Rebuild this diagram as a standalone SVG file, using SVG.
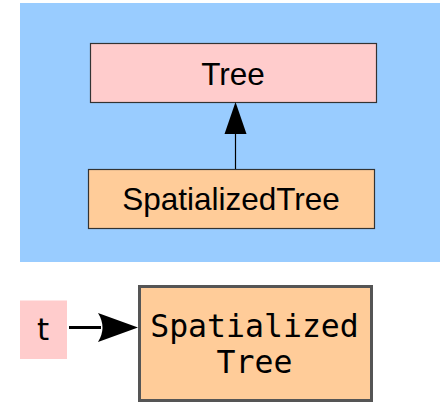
<svg xmlns="http://www.w3.org/2000/svg" width="440" height="402" viewBox="0 0 440 402">
<style>
.box{stroke:#333;stroke-width:1.2}
.lbl{font-family:"Liberation Sans",Arial,sans-serif;font-size:31.5px;text-anchor:middle;fill:#000}
.mono{font-family:"DejaVu Sans Mono",monospace;font-size:31.5px;text-anchor:middle;fill:#000}
</style>
<rect x="20" y="3" width="420" height="259" fill="#99ccff"/>
<g id="tree"><rect class="box" x="90.5" y="43.5" width="286" height="59" fill="#ffcccc"/><text class="lbl" x="233" y="85">Tree</text></g>
<g id="spatializedtree"><rect class="box" x="88.5" y="169.5" width="286" height="59" fill="#ffcc99"/><text class="lbl" x="231" y="210">SpatializedTree</text></g>
<g id="t"><rect x="20" y="300.5" width="47" height="58.5" fill="#ffcccc"/><text x="43" y="340" style="font-family:'DejaVu Sans',sans-serif;font-size:31px;text-anchor:middle">t</text></g>
<g id="spatialized-tree"><rect x="139.5" y="286.5" width="232" height="114" fill="#ffcc99" stroke="#555" stroke-width="3"/><text class="mono" x="254.5" y="337">Spatialized</text><text class="mono" x="254.5" y="373">Tree</text></g>
<g id="connectors">
<line x1="235.5" y1="169" x2="235.5" y2="133" stroke="#000" stroke-width="1.2"/>
<polygon points="235.5,102 224.5,134 246.5,134" fill="#000"/>
<line x1="69" y1="327.5" x2="101" y2="327.5" stroke="#000" stroke-width="3"/>
<path d="M98,313 L138,327.5 L98,342 Q107,327.5 98,313 Z" fill="#000"/>
</g>
</svg>
